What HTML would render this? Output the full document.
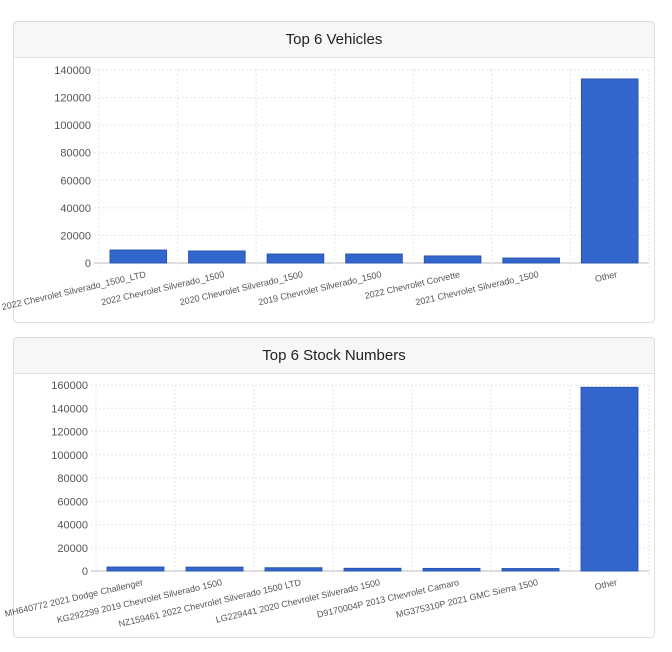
<!DOCTYPE html>
<html><head><meta charset="utf-8"><style>
body{margin:0;background:#fff;font-family:"Liberation Sans",sans-serif;}
.card{position:absolute;left:13px;width:640px;border:1px solid #ddd;border-radius:4px;background:#fff;overflow:hidden}
.hd{height:35px;background:#f7f7f7;border-bottom:1px solid #e3e3e3;text-align:center;line-height:36px;font-size:15px;color:#222}
svg{position:absolute;left:0;top:0}
</style></head><body>
<div class="card" style="top:21px;height:300px"><div class="hd">Top 6 Vehicles</div></div>
<div class="card" style="top:337px;height:299px"><div class="hd">Top 6 Stock Numbers</div></div>
<svg id="s" width="672" height="652"></svg>
<script>
const cats1=["2022 Chevrolet Silverado_1500_LTD","2022 Chevrolet Silverado_1500","2020 Chevrolet Silverado_1500","2019 Chevrolet Silverado_1500","2022 Chevrolet Corvette","2021 Chevrolet Silverado_1500","Other"];
const vals1=[9400,8700,6500,6500,5100,3600,133500];
const ticks1=[0,20000,40000,60000,80000,100000,120000,140000];
const cats2=["MH640772 2021 Dodge Challenger","KG292299 2019 Chevrolet Silverado 1500","NZ159461 2022 Chevrolet Silverado 1500 LTD","LG229441 2020 Chevrolet Silverado 1500","D9170004P 2013 Chevrolet Camaro","MG375310P 2021 GMC Sierra 1500","Other"];
const vals2=[3400,3300,2800,2300,2200,2100,158000];
const ticks2=[0,20000,40000,60000,80000,100000,120000,140000,160000];
const svg=document.getElementById('s');const NS='http://www.w3.org/2000/svg';
function mk(t,a){const e=document.createElementNS(NS,t);for(const k in a)e.setAttribute(k,a[k]);svg.appendChild(e);return e;}
function chart(cats,vals,ticks,x0,x1,y0,y1,max,id){
 const y=v=>y0-(v/max)*(y0-y1);const bw=(x1-x0)/cats.length;
 ticks.forEach(t=>{const l=mk('line',{x1:x0-5,x2:x1,y1:y(t),y2:y(t),stroke:t==0?'#bbb':'#e6e6e6','stroke-dasharray':t==0?'':'2,2'});
 
 const tx=mk('text',{x:x0-8,y:y(t)+4,'text-anchor':'end','font-size':11,fill:'#555'});tx.textContent=t;
 });
 for(let i=0;i<=cats.length;i++){const l=mk('line',{x1:x0+i*bw,x2:x0+i*bw,y1:y1,y2:y0+5,stroke:'#e6e6e6','stroke-dasharray':'2,2'});
 }
 cats.forEach((c,i)=>{const cx=x0+(i+0.5)*bw,w=bw*0.72;
 const r=mk('rect',{x:cx-w/2,y:y(vals[i]),width:w,height:y0-y(vals[i]),fill:'#3366cc',stroke:'#2a55b0'});
 
 const t=mk('text',{x:cx+8,y:y0+14,'text-anchor':'end','font-size':9,fill:'#555',transform:`rotate(-13 ${cx+8} ${y0+14})`});t.textContent=c;
 });
}
chart(cats1,vals1,ticks1,99,649,263,70,140000,'vehicles');
chart(cats2,vals2,ticks2,96,649,571,385,160000,'stock');
</script>
</body></html>
